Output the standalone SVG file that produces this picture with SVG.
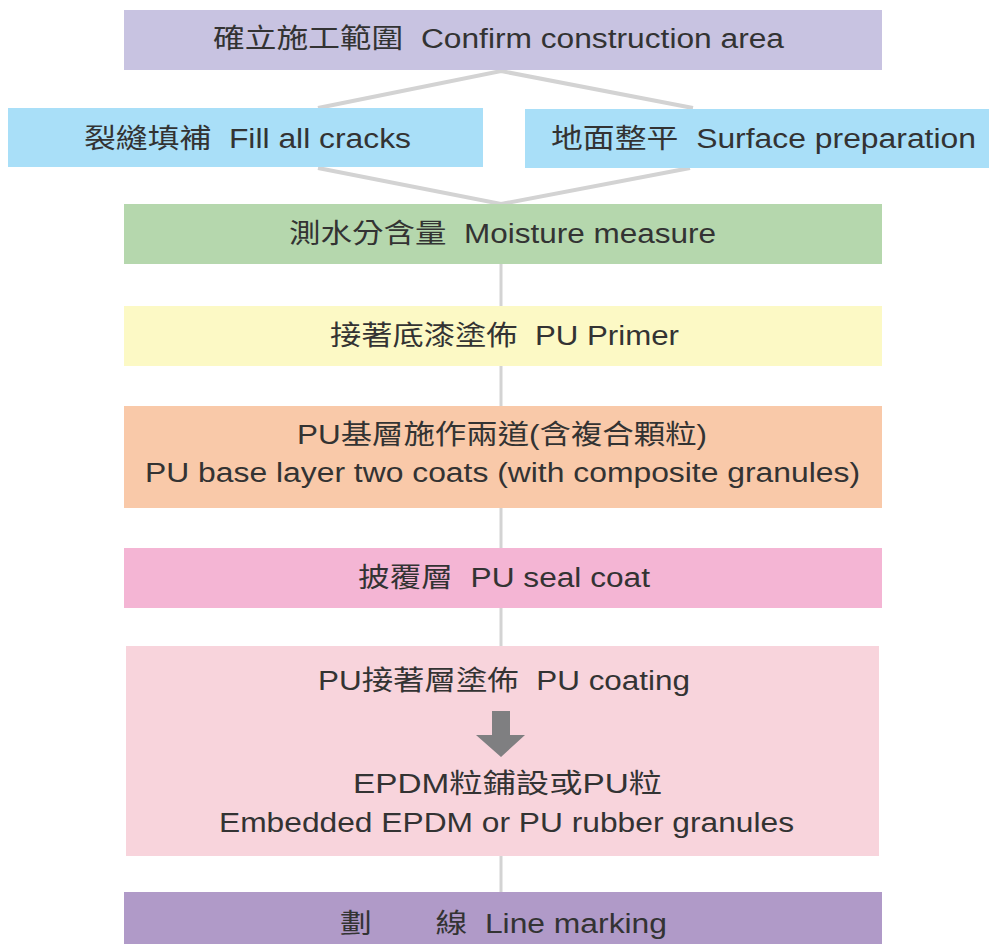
<svg xmlns="http://www.w3.org/2000/svg" width="989" height="944" viewBox="0 0 989 944">
<style>
text{font-family:"Liberation Sans","Noto Sans CJK TC",sans-serif;font-size:27px;fill:#333333;text-anchor:middle;white-space:pre}
.c{stroke:#d3d3d3;stroke-width:4;fill:none}
.v{stroke:#d3d3d3;stroke-width:3;fill:none}
</style>
<rect width="989" height="944" fill="#ffffff"/>
<g id="connectors">
<polyline class="c" points="318,108 501,71 693,108"/>
<polyline class="c" points="318,168 501,204 690,168"/>
<line class="v" x1="501" y1="264" x2="501" y2="892"/>
</g>
<g id="n1"><rect x="124" y="10" width="758" height="60" fill="#c8c3e1"/><text x="498.5" y="48" textLength="571" lengthAdjust="spacingAndGlyphs" xml:space="preserve">確立施工範圍  Confirm construction area</text></g>
<g id="n2"><rect x="8" y="108" width="475" height="59" fill="#a9dff8"/><text x="247.5" y="148" textLength="327" lengthAdjust="spacingAndGlyphs" xml:space="preserve">裂縫填補  Fill all cracks</text></g>
<g id="n3"><rect x="525" y="109" width="464" height="59" fill="#a9dff8"/><text x="763.5" y="148" textLength="425" lengthAdjust="spacingAndGlyphs" xml:space="preserve">地面整平  Surface preparation</text></g>
<g id="n4"><rect x="124" y="204" width="758" height="60" fill="#b5d7ad"/><text x="502.5" y="243" textLength="427" lengthAdjust="spacingAndGlyphs" xml:space="preserve">測水分含量  Moisture measure</text></g>
<g id="n5"><rect x="124" y="306" width="758" height="60" fill="#fcf9c5"/><text x="504.5" y="345" textLength="349" lengthAdjust="spacingAndGlyphs" xml:space="preserve">接著底漆塗佈  PU Primer</text></g>
<g id="n6"><rect x="124" y="406" width="758" height="102" fill="#f9c9a9"/><text x="502" y="444" textLength="410" lengthAdjust="spacingAndGlyphs">PU基層施作兩道(含複合顆粒)</text><text x="502.5" y="482" textLength="715" lengthAdjust="spacingAndGlyphs">PU base layer two coats (with composite granules)</text></g>
<g id="n7"><rect x="124" y="548" width="758" height="60" fill="#f4b5d4"/><text x="504" y="587" textLength="292" lengthAdjust="spacingAndGlyphs" xml:space="preserve">披覆層  PU seal coat</text></g>
<g id="n8"><rect x="126" y="646" width="753" height="210" fill="#f8d4dc"/><text x="504" y="690" textLength="372" lengthAdjust="spacingAndGlyphs" xml:space="preserve">PU接著層塗佈  PU coating</text>
<polygon points="492,711 510,711 510,735 525,735 501,757 476,735 492,735" fill="#7f7f81"/>
<text x="507.5" y="793" textLength="309" lengthAdjust="spacingAndGlyphs">EPDM粒鋪設或PU粒</text><text x="506.5" y="832" textLength="575" lengthAdjust="spacingAndGlyphs">Embedded EPDM or PU rubber granules</text></g>
<g id="n9"><rect x="124" y="892" width="758" height="52" fill="#b09ac8"/><text x="503.5" y="933" textLength="327" lengthAdjust="spacingAndGlyphs" xml:space="preserve">劃　　線  Line marking</text></g>
</svg>
